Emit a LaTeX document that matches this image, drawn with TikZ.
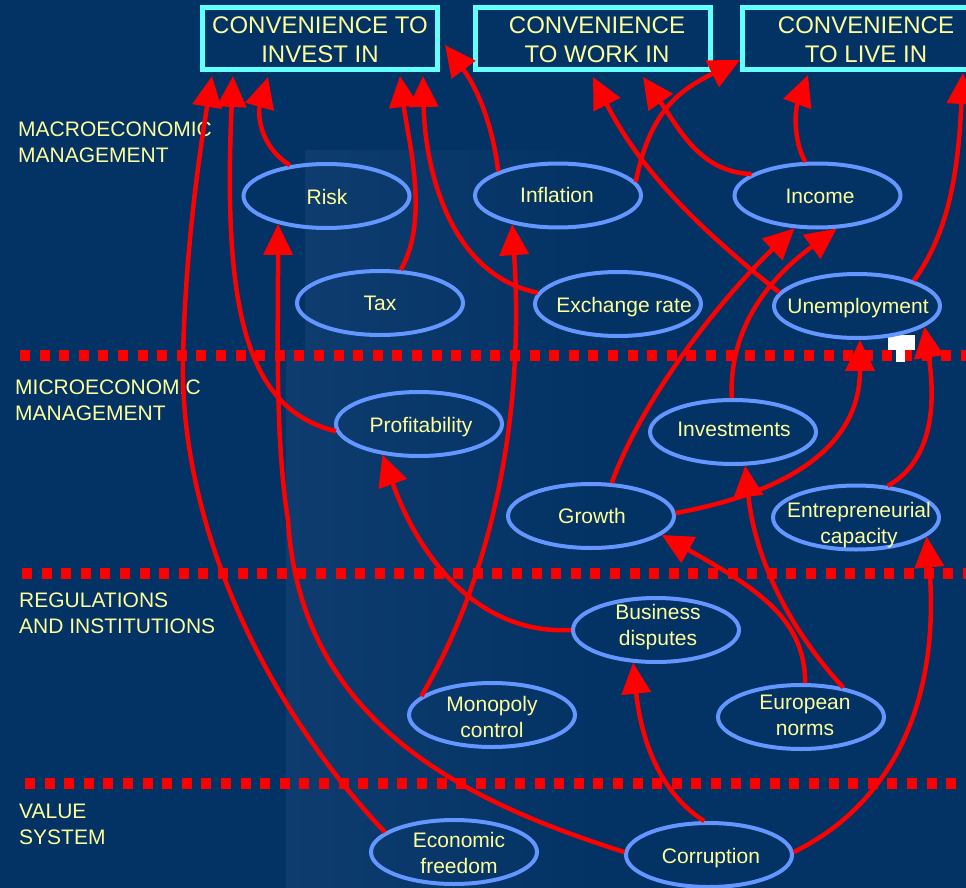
\documentclass[tikz,border=0pt]{standalone}
\usepackage{fontspec}
\setmainfont{Liberation Sans}
\usetikzlibrary{arrows.meta,shapes.geometric}
\definecolor{bg}{RGB}{3,50,100}
\definecolor{bgl}{RGB}{14,60,110}
\definecolor{ellc}{RGB}{100,150,255}
\definecolor{boxc}{RGB}{100,255,255}
\definecolor{txtc}{RGB}{255,255,153}
\definecolor{arrc}{RGB}{255,0,0}
\begin{document}
\begin{tikzpicture}[x=1pt,y=-1pt,
 ell/.style={draw=ellc, line width=4pt, ellipse, minimum width=166pt, minimum height=64pt, inner sep=0pt},
 etxt/.style={text=txtc, font=\fontsize{21}{26}\selectfont, align=center, inner sep=0pt},
 etxtb/.style={etxt, anchor=base},
 boxn/.style={draw=boxc, line width=5pt, rectangle, inner sep=0pt, minimum width=235pt, minimum height=62pt},
 btxt/.style={text=txtc, font=\fontsize{24}{29}\selectfont, align=center, inner sep=0pt},
 lab/.style={text=txtc, font=\fontsize{21}{26}\selectfont, align=left, inner sep=0pt, anchor=west},
 arr/.style={draw=arrc, line width=4.5pt, -{Triangle[length=31pt,width=29pt]}},
 dotl/.style={draw=arrc, line width=11pt, dash pattern=on 10pt off 9.6pt}
]
\useasboundingbox (0,0) rectangle (966,888);
\clip (0,0) rectangle (966,888);
\fill[bg] (0,0) rectangle (966,888);
\shade[left color=bgl, right color=bg] (286,350) rectangle (600,888);
\shade[left color=bgl, right color=bg] (305,150) rectangle (600,350);

% dotted separators
\draw[dotl] (20,355.5) -- (980,355.5);
\draw[dotl] (22,573.5) -- (980,573.5);
\draw[dotl] (25,783) -- (980,783);
% white mark
\fill[white] (888,335) rectangle (915,350);
\fill[white] (896,349) rectangle (905,362);

% level labels
\node[lab] (lmacro) at (18,142.5) {MACROECONOMIC\\MANAGEMENT};
\node[lab] (lmicro) at (15,400.5) {MICROECONOMIC\\MANAGEMENT};
\node[lab] (lreg) at (19,613.5) {REGULATIONS\\AND INSTITUTIONS};
\node[lab] (lval) at (19,824) {VALUE\\SYSTEM};

% goal boxes
\node[boxn] (b1) at (320,38.5) {};
\node[boxn] (b2) at (593,38.5) {};
\node[boxn] (b3) at (860,38.5) {};
\node[btxt] (b1t) at (320,39.5) {CONVENIENCE TO\\INVEST IN};
\node[btxt] (b2t) at (597,39.5) {CONVENIENCE\\TO WORK IN};
\node[btxt] (b3t) at (866,39.5) {CONVENIENCE\\TO LIVE IN};

% ellipses
\node[ell] (risk) at (326.5,196) {};
\node[ell] (infl) at (558,195.5) {};
\node[ell] (income) at (817.5,195.5) {};
\node[ell] (tax) at (380,303) {};
\node[ell] (exch) at (618,304) {};
\node[ell] (unemp) at (857,306) {};
\node[ell] (prof) at (419,424) {};
\node[ell] (inv) at (733,432) {};
\node[ell] (growth) at (591,516) {};
\node[ell] (ent) at (856,517.5) {};
\node[ell] (bus) at (656,630) {};
\node[ell] (mono) at (492,715) {};
\node[ell] (euro) at (801,717) {};
\node[ell] (econ) at (454,852) {};
\node[ell] (corr) at (709,855) {};

% ellipse texts
\node[etxtb] (riskT) at (327,204) {Risk};
\node[etxtb] (inflT) at (557,202) {Inflation};
\node[etxtb] (incomeT) at (820,203) {Income};
\node[etxtb] (taxT) at (380,310) {Tax};
\node[etxtb] (exchT) at (624,312) {Exchange rate};
\node[etxtb] (unempT) at (858,313) {Unemployment};
\node[etxtb] (profT) at (421,432) {Profitability};
\node[etxtb] (invT) at (734,436) {Investments};
\node[etxtb] (growthT) at (592,523) {Growth};
\node[etxtb] (corrT) at (711,863) {Corruption};
\node[etxt] (entT) at (859,525) {Entrepreneurial\\capacity};
\node[etxt] (busT) at (658,627.5) {Business\\disputes};
\node[etxt] (monoT) at (492,717) {Monopoly\\control};
\node[etxt] (euroT) at (805,715) {European\\norms};
\node[etxt] (econT) at (459,852.5) {Economic\\freedom};

% arrows
\draw[arr] (risk.140) .. controls (258,145) and (258,112) .. ([xshift=68pt,yshift=-5pt]b1.south west);
\draw[arr] (tax.58) .. controls (430,220) and (408,140) .. ([xshift=200pt,yshift=-4pt]b1.south west);
\draw[arr] (exch.172) .. controls (450,275) and (425,170) .. ([xshift=223pt,yshift=-4pt]b1.south west);
\draw[arr] (infl.158) .. controls (492,120) and (475,85) .. ([xshift=5pt,yshift=-6.5pt]b1.east);
\draw[arr] (infl.10) .. controls (650,110) and (680,90) .. ([yshift=12pt]b3.south west);
\draw[arr] (income.162) .. controls (700,172) and (680,130) .. ([xshift=170pt,yshift=-5pt]b2.south west);
\draw[arr] (unemp.170) .. controls (700,230) and (640,170) .. ([xshift=120pt,yshift=-5pt]b2.south west);
\draw[arr] (income.110) .. controls (793,140) and (795,110) .. ([xshift=68pt,yshift=-3pt]b3.south west);
\draw[arr] (unemp.24) .. controls (950,230) and (958,170) .. ([xshift=223pt,yshift=-1pt]b3.south west);
\draw[arr] (growth.58) .. controls (650,380) and (740,280) .. (income.235);
\draw[arr] (inv.92) .. controls (728,320) and (780,270) .. (income.300);
\draw[arr] (growth.2) .. controls (800,490) and (860,440) .. (unemp.275);
\draw[arr] (ent.45) .. controls (925,465) and (938,420) .. (unemp.343);
\draw[arr] (prof.185) .. controls (250,410) and (222,320) .. ([xshift=33pt,yshift=-4pt]b1.south west);
\draw[arr] (econ.164) .. controls (260,700) and (180,520) .. (183,360) .. controls (185,250) and (200,150) .. ([xshift=12pt,yshift=-4pt]b1.south west);
\draw[arr] (corr.178) .. controls (460,800) and (300,720) .. (288,520) .. controls (275,440) and (278,330) .. (risk.210);
\draw[arr] (mono.165) .. controls (490,580) and (525,420) .. (infl.212);
\draw[arr] (bus.180) .. controls (480,635) and (420,560) .. (prof.220);
\draw[arr] (corr.98) .. controls (655,790) and (640,730) .. (bus.235);
\draw[arr] (corr.2) .. controls (900,800) and (940,690) .. (ent.345);
\draw[arr] (euro.83) .. controls (805,620) and (760,590) .. (growth.345);
\draw[arr] (euro.35) .. controls (790,630) and (755,560) .. (inv.290);
\end{tikzpicture}
\end{document}
